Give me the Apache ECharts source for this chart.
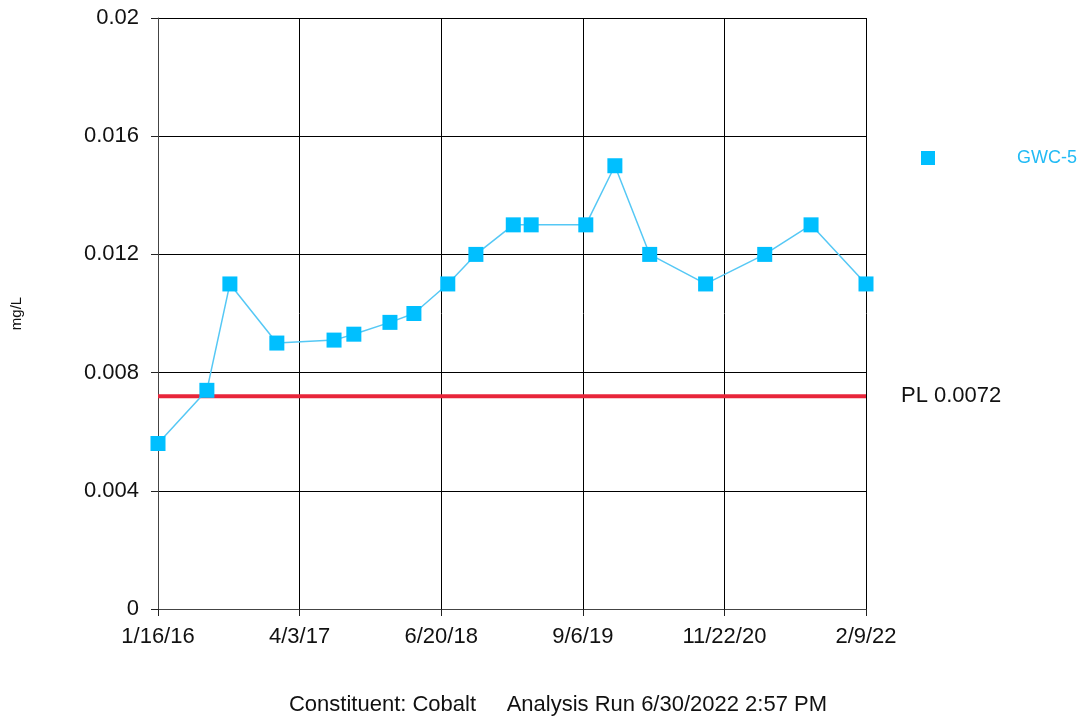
<!DOCTYPE html>
<html>
<head>
<meta charset="utf-8">
<script src="https://cdn.jsdelivr.net/npm/echarts@6/dist/echarts.min.js"></script>
<style>html,body{margin:0;padding:0;background:#fff;}#c{width:1081px;height:719px;}</style>
</head>
<body>
<div id="c"></div>
<script>
// Data
const startDate = '2016-01-16';
const endDate = '2022-02-09';
const tickLabels = ['1/16/16', '4/3/17', '6/20/18', '9/6/19', '11/22/20', '2/9/22'];
const sampleDates = ['2016-01-16','2016-06-17','2016-08-28','2017-01-22','2017-07-20','2017-09-20',
  '2018-01-11','2018-03-27','2018-07-11','2018-10-07','2019-02-01','2019-03-29',
  '2019-09-16','2019-12-16','2020-04-03','2020-09-25','2021-03-29','2021-08-21','2022-02-09'];
const gwc5 = [0.0056, 0.0074, 0.011, 0.009, 0.0091, 0.0093, 0.0097, 0.01, 0.011, 0.012, 0.013, 0.013,
  0.013, 0.015, 0.012, 0.011, 0.012, 0.013, 0.011];
const plValue = 0.0072;
const seriesName = 'GWC-5';

const DAY = 86400000;
const t0 = Date.parse(startDate);
const dayOffset = d => Math.round((Date.parse(d) - t0) / DAY);
const xMax = dayOffset(endDate);
const xStep = xMax / (tickLabels.length - 1);
const points = sampleDates.map((d, i) => [dayOffset(d), gwc5[i]]);
const plPoints = [[0, plValue], [xMax, plValue]];

const chart = echarts.init(document.getElementById('c'), null, {renderer: 'canvas'});
const font = 'Liberation Sans, Arial, sans-serif';
chart.setOption({
  animation: false,
  backgroundColor: '#fff',
  grid: {left: 158, right: 215, top: 18, bottom: 110, containLabel: false},
  xAxis: {
    type: 'value', min: 0, max: xMax, interval: xStep,
    axisLine: {show: true, onZero: false, lineStyle: {color: '#444', width: 1}},
    axisTick: {show: true, length: 7, inside: false, lineStyle: {color: '#222'}},
    splitLine: {show: true, lineStyle: {color: '#000', width: 1}},
    axisLabel: {
      color: '#111', fontFamily: font, fontSize: 22, margin: 17,
      formatter: v => tickLabels[Math.round(v / xStep)] || ''
    }
  },
  yAxis: {
    type: 'value', min: 0, max: 0.02, interval: 0.004,
    name: 'mg/L', nameLocation: 'middle', nameGap: 134, nameRotate: 90,
    nameTextStyle: {color: '#111', fontFamily: font, fontSize: 15},
    axisLine: {show: true, lineStyle: {color: '#444', width: 1}},
    axisTick: {show: true, length: 7, inside: false, lineStyle: {color: '#222'}},
    splitLine: {show: true, lineStyle: {color: '#000', width: 1}},
    axisLabel: {
      color: '#111', fontFamily: font, fontSize: 22, margin: 19,
      formatter: v => v === 0 ? '0' : String(parseFloat(v.toFixed(4)))
    }
  },
  legend: {
    show: true, left: 916, top: 144, orient: 'vertical',
    itemWidth: 14, itemHeight: 14,
    data: [{name: seriesName, icon: 'rect'}],
    textStyle: {color: '#22bbf5', fontFamily: font, fontSize: 18, padding: [0, 0, 0, 77]}
  },
  series: [{
    name: 'PL', type: 'line', data: plPoints,
    symbol: 'none', silent: true, z: 3,
    lineStyle: {color: '#e8253a', width: 4},
    itemStyle: {color: '#e8253a'},
    endLabel: {show: true, formatter: 'PL ' + plValue, color: '#111',
      fontFamily: font, fontSize: 22, distance: 35}
  }, {
    name: seriesName, type: 'line', data: points,
    symbol: 'rect', symbolSize: 15, clip: false,
    itemStyle: {color: '#00bfff'},
    lineStyle: {color: '#55c8f5', width: 1.5},
    z: 5
  }],
  graphic: [{
    type: 'text', x: 558, y: 694,
    style: {text: 'Constituent: Cobalt     Analysis Run 6/30/2022 2:57 PM', fill: '#111',
      align: 'center', font: '22px Liberation Sans, Arial, sans-serif'}
  }]
});
</script>
</body>
</html>
